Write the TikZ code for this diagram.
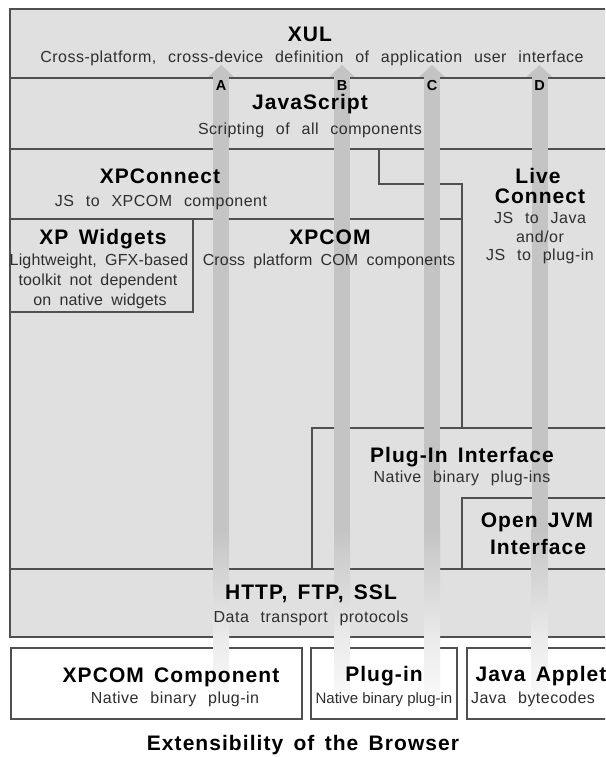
\documentclass[tikz,border=0pt]{standalone}
\usepackage{fontspec}
\setmainfont{Liberation Sans}
\newfontfamily\ttlfont[LetterSpace=5,WordSpace=1.5]{Liberation Sans}
\newfontfamily\subfont[LetterSpace=3,WordSpace=2.4]{Liberation Sans}
\newfontfamily\tightfont[LetterSpace=1,WordSpace=1.8]{Liberation Sans}
\newfontfamily\narrowfont{Liberation Sans}
\definecolor{bggray}{HTML}{E0E0E0}
\definecolor{bargray}{HTML}{C4C4C4}
\definecolor{fadegray}{HTML}{EBEBEB}
\definecolor{linegray}{HTML}{505050}
\definecolor{subgray}{HTML}{2E2E2E}
\begin{document}
\begin{tikzpicture}[x=1pt,y=-1pt,
  ttl/.style={inner sep=0pt, anchor=base, text=black, font={\ttlfont\bfseries\fontsize{21}{24}\selectfont}},
  sub/.style={inner sep=0pt, anchor=base, text=subgray, font={\subfont\fontsize{16}{19}\selectfont}},
  subtight/.style={inner sep=0pt, anchor=base, text=subgray, font={\tightfont\fontsize{16}{19}\selectfont}},
  subnarrow/.style={inner sep=0pt, anchor=base, text=subgray, font={\narrowfont\fontsize{15}{18}\selectfont}},
  lbl/.style={inner sep=0pt, anchor=base, text=black, font={\ttlfont\bfseries\fontsize{14.5}{16}\selectfont}},
  frame/.style={draw=linegray, line width=1.1pt},
  outbox/.style={draw=linegray, line width=1.1pt, fill=white}]
\useasboundingbox (0,0) rectangle (605,757);
\clip (0,0) rectangle (605,757);
\fill[white] (0,0) rectangle (605,757);
% main gray stack
\fill[bggray] (10,9) rectangle (625,637);
\draw[frame] (625,9) -- (10,9) -- (10,637) -- (625,637);
\draw[frame] (10,78) -- (625,78);
\draw[frame] (10,149) -- (625,149);
\draw[frame] (10,219) -- (462,219);
\draw[frame] (379,149) -- (379,184) -- (462,184) -- (462,428);
\draw[frame] (10,219) rectangle (193,312);
\draw[frame] (625,428) -- (312,428) -- (312,569);
\draw[frame] (625,498) -- (462,498) -- (462,569);
\draw[frame] (10,569) -- (625,569);
% bottom boxes
\draw[outbox] (11,648) rectangle (302,719);
\draw[outbox] (311,648) rectangle (457,719);
\draw[outbox] (467,648) rectangle (630,719);
% vertical arrows
\foreach \n/\x in {A/221,B/342,C/432,D/539.5}{
  \coordinate (tip\n) at (\x,65);
  \fill[bargray] (\x-13,77) -- (tip\n) -- (\x+13,77) -- cycle;
  \fill[bargray] (\x-8,76.5) rectangle (\x+8,530);
  \shade[top color=bargray, bottom color=fadegray] (\x-8,529.5) rectangle (\x+8,640);
  \shade[top color=fadegray, bottom color=white] (\x-8,639.5) rectangle (\x+8,716);
  \node[lbl] (lbl\n) at (\x,91) {\n};
}
% texts
\node[ttl] (xul) at (310,42) {XUL};
\node[sub] (xuls) at (312,63) {Cross-platform, cross-device definition of application user interface};
\node[ttl] (js) at (310,110) {JavaScript};
\node[sub] (jss) at (310,135) {Scripting of all components};
\node[ttl] (xpc) at (160,183) {XPConnect};
\node[sub] (xpcs) at (161,206) {JS to XPCOM component};
\node[ttl] (live) at (538,183) {Live};
\node[ttl] (conn) at (540,203) {Connect};
\node[sub] (lc1) at (540,223) {JS to Java};
\node[sub] (lc2) at (540,242) {and/or};
\node[sub] (lc3) at (540,260) {JS to plug-in};
\node[ttl] (xpw) at (103,244) {XP Widgets};
\node[subtight] (xpw1) at (99,265) {Lightweight, GFX-based};
\node[subtight] (xpw2) at (98,285) {toolkit not dependent};
\node[subtight] (xpw3) at (100,305) {on native widgets};
\node[ttl] (xpcom) at (330,244) {XPCOM};
\node[subtight] (xpcoms) at (329,265) {Cross platform COM components};
\node[ttl] (pii) at (462,462) {Plug-In Interface};
\node[sub] (piis) at (462,482) {Native binary plug-ins};
\node[ttl] (jvm1) at (537,527) {Open JVM};
\node[ttl] (jvm2) at (538,554) {Interface};
\node[ttl] (http) at (311,599) {HTTP, FTP, SSL};
\node[sub] (https) at (311,622) {Data transport protocols};
\node[ttl] (comp) at (171,682) {XPCOM Component};
\node[sub] (comps) at (175,703) {Native binary plug-in};
\node[ttl] (plug) at (384,681) {Plug-in};
\node[subnarrow] (plugs) at (384,703) {Native binary plug-in};
\node[ttl] (java) at (541,681) {Java Applet};
\node[sub] (javas) at (533,703) {Java bytecodes};
\node[ttl] (caption) at (303,750) {Extensibility of the Browser};
\end{tikzpicture}
\end{document}
